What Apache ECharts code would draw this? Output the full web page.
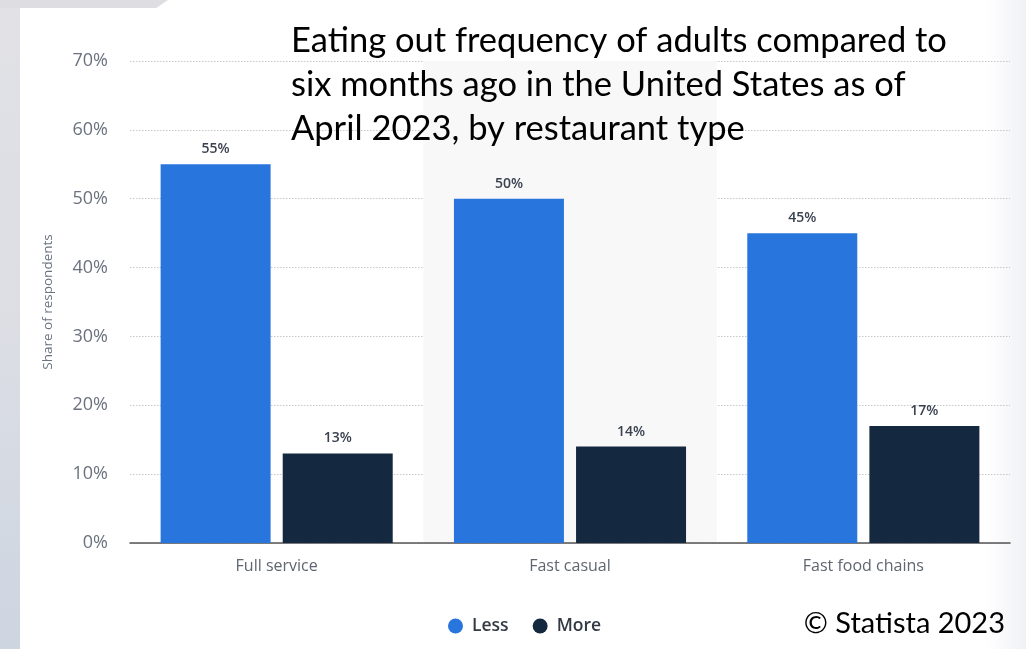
<!DOCTYPE html>
<html>
<head>
<meta charset="utf-8">
<script src="https://cdn.jsdelivr.net/npm/echarts@6/dist/echarts.min.js"></script>
<style>
  html, body { margin: 0; padding: 0; width: 1026px; height: 649px; overflow: hidden; background: #ffffff; }
  #leftStrip { position: absolute; left: 0; top: 0; width: 20px; height: 649px;
    background: linear-gradient(to bottom, #e1e1e6 0%, #dcdee4 50%, #cdd5e1 100%); }
  #topStrip { position: absolute; left: 0; top: 0; width: 168px; height: 8px; background: #dddde2;
    clip-path: polygon(0 0, 100% 0, 93% 100%, 0 100%); }
  #rightFade { position: absolute; right: 0; top: 0; width: 40px; height: 649px;
    background: linear-gradient(to right, rgba(245,245,248,0) 0%, rgba(240,241,245,1) 100%); }
  #chart { position: absolute; left: 0; top: 0; width: 1026px; height: 649px; }
</style>
</head>
<body>
<div id="leftStrip"></div>
<div id="topStrip"></div>
<div id="rightFade"></div>
<div id="chart"></div>
<script>
const categories = ['Full service', 'Fast casual', 'Fast food chains'];
const seriesNames = ['Less', 'More'];
const lessValues = [55, 50, 45];
const moreValues = [13, 14, 17];
const yTicks = [0, 10, 20, 30, 40, 50, 60, 70];
const titleLines = [
  'Eating out frequency of adults compared to',
  'six months ago in the United States as of',
  'April 2023, by restaurant type'
];
const sourceText = '© Statista 2023';
const yAxisName = 'Share of respondents';

const chart = echarts.init(document.getElementById('chart'), null, { renderer: 'canvas' });
const labelStyle = {
  show: true,
  position: 'top',
  distance: 8,
  formatter: p => p.value + '%',
  color: '#3a4250',
  fontFamily: 'Open Sans',
  fontSize: 14,
  fontWeight: 600
};
chart.setOption({
  backgroundColor: 'transparent',
  animation: false,
  grid: { left: 130, right: 16, top: 61, bottom: 106, containLabel: false },
  title: {
    text: titleLines.join('\n'),
    left: 291,
    top: 19,
    padding: 0,
    textStyle: { fontFamily: 'Lato', fontSize: 34.5, fontWeight: 'normal', color: '#000000', lineHeight: 44 }
  },
  graphic: [{
    type: 'text',
    right: 21,
    top: 609,
    style: { text: sourceText, fontFamily: 'Lato', fontSize: 29, fill: '#000000' }
  }],
  legend: {
    data: seriesNames,
    bottom: 9,
    left: 443,
    icon: 'circle',
    itemWidth: 15,
    itemHeight: 15,
    itemGap: 24,
    textStyle: { fontFamily: 'Open Sans', fontSize: 17.5, fontWeight: 600, color: '#333a44', padding: [0, 0, 0, 4] }
  },
  xAxis: {
    type: 'category',
    data: categories,
    axisLine: { lineStyle: { color: '#555555', width: 1.5 } },
    axisTick: { show: false },
    axisLabel: { margin: 15, fontFamily: 'Open Sans', fontSize: 16, color: '#5f6670' },
    splitArea: { show: true, areaStyle: { color: ['rgba(0,0,0,0)', '#f8f8f8'] } }
  },
  yAxis: {
    type: 'value',
    min: yTicks[0],
    max: yTicks[yTicks.length - 1],
    interval: 10,
    name: yAxisName,
    nameLocation: 'middle',
    nameRotate: 90,
    nameGap: 75,
    nameTextStyle: { fontFamily: 'Open Sans', fontSize: 13.5, color: '#6b7380' },
    axisLine: { show: false },
    axisTick: { show: false },
    axisLabel: { margin: 22, fontFamily: 'Open Sans', fontSize: 18, color: '#6b727e', formatter: '{value}%' },
    splitLine: { lineStyle: { color: '#c8c8c8', type: [1.5, 1.5], width: 1 } }
  },
  series: [
    { name: seriesNames[0], type: 'bar', data: lessValues, barWidth: 110, barGap: '11%',
      itemStyle: { color: '#2876dd' }, label: labelStyle },
    { name: seriesNames[1], type: 'bar', data: moreValues, barWidth: 110,
      itemStyle: { color: '#14283f' }, label: labelStyle }
  ]
});
</script>
</body>
</html>
